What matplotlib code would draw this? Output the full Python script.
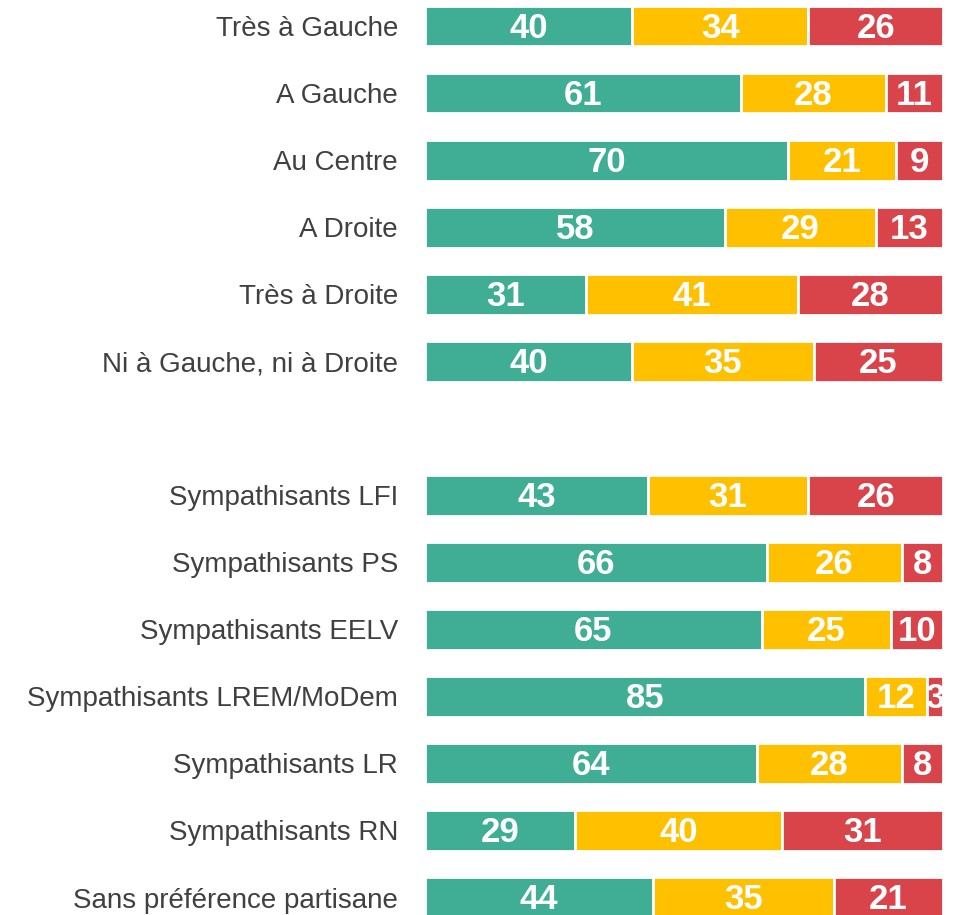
import matplotlib
matplotlib.use("Agg")
import matplotlib.pyplot as plt

categories = ["Très à Gauche", "A Gauche", "Au Centre", "A Droite", "Très à Droite",
              "Ni à Gauche, ni à Droite", None,
              "Sympathisants LFI", "Sympathisants PS", "Sympathisants EELV",
              "Sympathisants LREM/MoDem", "Sympathisants LR", "Sympathisants RN",
              "Sans préférence partisane"]
green_vals = [40, 61, 70, 58, 31, 40, None, 43, 66, 65, 85, 64, 29, 44]
yellow_vals = [34, 28, 21, 29, 41, 35, None, 31, 26, 25, 12, 28, 40, 35]
red_vals = [26, 11, 9, 13, 28, 25, None, 26, 8, 10, 3, 8, 31, 21]
colors = ["#3FAE95", "#FFC000", "#D9444B"]

plt.rcParams['font.family'] = ['Liberation Sans', 'DejaVu Sans']

fig = plt.figure(figsize=(9.59, 9.15), dpi=100)
ax = fig.add_axes([425/959, 0, (943-425)/959, 1])
ax.set_xlim(0, 100)
step = 67.04
ax.set_ylim((915-26)/step, -26/step)
ax.axis('off')

for i, cat in enumerate(categories):
    if cat is None:
        continue
    left = 0
    for vals, c in zip([green_vals, yellow_vals, red_vals], colors):
        v = vals[i]
        ax.barh(i, v, left=left, height=0.61, color=c, edgecolor='white', linewidth=2)
        t = ax.text(left + v/2, i + 0.035, str(v), ha='center', va='center', color='white',
                    fontsize=25, fontweight='bold', clip_on=False)
        if left + v/2 > 97:
            # narrow last segment: label cut at the bar's right end
            t.set_clip_on(True)
        left += v
    ax.text(-5.2, i, cat, ha='right', va='center_baseline', color='#404040', fontsize=20, clip_on=False)

fig.savefig("out.png", dpi=100)
